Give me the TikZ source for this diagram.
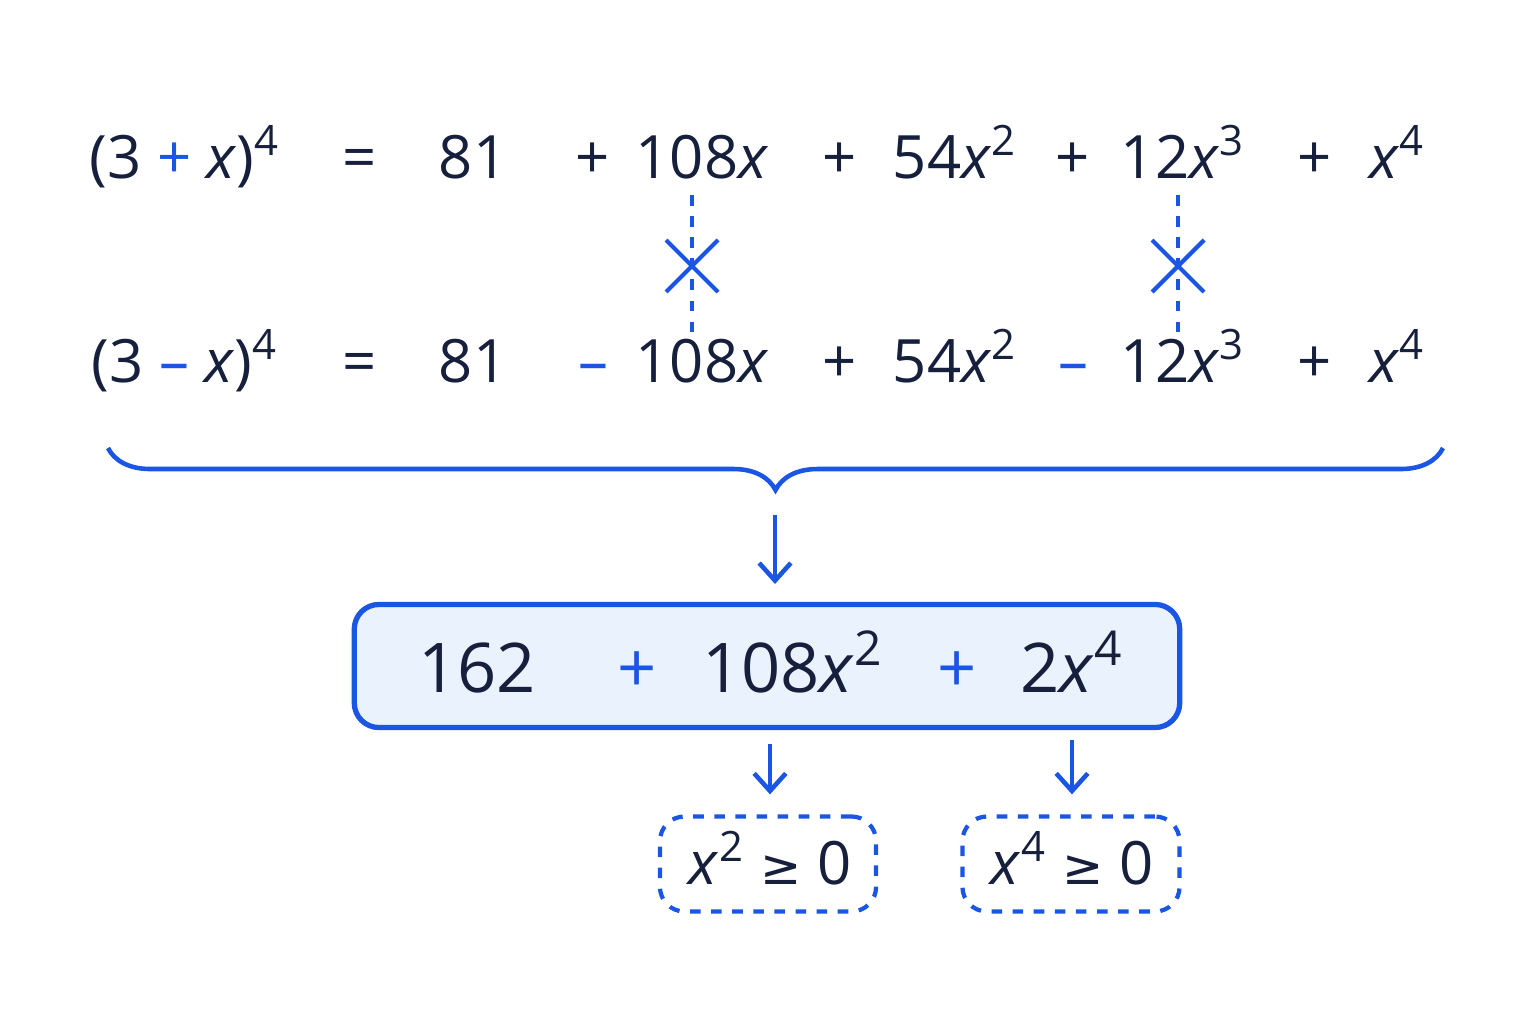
\documentclass[tikz,border=0pt]{standalone}
\usepackage{fontspec}
\setmainfont{Open Sans}
\newfontfamily\symfont{DejaVu Sans}
\usepackage{tikz}
\usetikzlibrary{arrows.meta, positioning, calc, decorations.pathreplacing}
\definecolor{ink}{RGB}{22, 32, 60}
\definecolor{popblue}{RGB}{26, 85, 227}
\definecolor{boxfill}{RGB}{234, 242, 254}
\newcommand{\vx}{\textit{x}}
\newcommand{\pw}[1]{\textsuperscript{#1}}

\begin{document}
\begin{tikzpicture}[x=0.01cm, y=-0.01cm,
    term/.style={text=ink, font=\fontsize{17}{20}\selectfont, inner sep=0pt, anchor=base},
    big/.style={text=ink, font=\fontsize{19.5}{23}\selectfont, inner sep=0pt, anchor=base},
    sign/.style={text=popblue},
    guide/.style={draw=popblue, dashed, line width=0.9pt},
    cross/.style={draw=popblue, line width=1.2pt},
    down/.style={draw=popblue, line width=1.3pt, -{Straight Barb[length=5pt, width=9pt]}}]
  \useasboundingbox (0,0) rectangle (1536,1024);
  % upper row
  \node[term] (pl) at (185,178) {(3 {\color{popblue}+} \vx)\pw{4}};
  \node[term] (eqa) at (360,178) {=};
  \node[term] (a0) at (473,178) {81};
  \node[term] (sa1) at (593,178) {+};
  \node[term] (a1) at (702,178) {108\vx};
  \node[term] (sa2) at (840,178) {+};
  \node[term] (a2) at (955,178) {54\vx\pw{2}};
  \node[term] (sa3) at (1073,178) {+};
  \node[term] (a3) at (1183,178) {12\vx\pw{3}};
  \node[term] (sa4) at (1315,178) {+};
  \node[term] (a4) at (1397,178) {\vx\pw{4}};
  % lower row
  \node[term] (mi) at (185,382) {(3 {\color{popblue}\textendash} \vx)\pw{4}};
  \node[term] (eqb) at (360,382) {=};
  \node[term] (b0) at (473,382) {81};
  \node[term, sign] (sb1) at (593,382) {\textendash};
  \node[term] (b1) at (702,382) {108\vx};
  \node[term] (sb2) at (840,382) {+};
  \node[term] (b2) at (955,382) {54\vx\pw{2}};
  \node[term, sign] (sb3) at (1073,382) {\textendash};
  \node[term] (b3) at (1183,382) {12\vx\pw{3}};
  \node[term] (sb4) at (1315,382) {+};
  \node[term] (b4) at (1397,382) {\vx\pw{4}};
  % cancelling pairs
  \foreach \cx in {692,1178} {
    \draw[guide] (\cx,195) -- (\cx,332);
    \draw[cross] (\cx-26,240) -- (\cx+26,292) (\cx-26,292) -- (\cx+26,240);
  }
  % brace
  \coordinate (bl) at (108,448);
  \coordinate (br) at (1443,448);
  \draw[popblue, line width=1.3pt, decorate, decoration={brace, amplitude=0.42cm, mirror}] (bl) -- (br);
  \coordinate (tip) at (775,515);
  \coordinate (top) at (775,584);
  \draw[down] (tip) -- (top);
  % result
  \node[draw=popblue, fill=boxfill, line width=1.5pt, rounded corners=7pt,
        minimum width=8.25cm, minimum height=1.23cm] (res) at (767,666) {};
  \node[big] (r0) at (477,692) {162};
  \node[big, sign] (r1) at (637,692) {+};
  \node[big] (r2) at (793,692) {108\vx\pw{2}};
  \node[big, sign] (r3) at (957,692) {+};
  \node[big] (r4) at (1072,692) {2\vx\pw{4}};
  % sign checks
  \node[draw=popblue, dashed, line width=1.2pt, rounded corners=7pt,
        minimum width=2.16cm, minimum height=0.95cm] (c2) at (768,864) {};
  \node[draw=popblue, dashed, line width=1.2pt, rounded corners=7pt,
        minimum width=2.17cm, minimum height=0.95cm] (c4) at (1071,864) {};
  \node[term] at (770,884) {\vx\pw{2} {\symfont\fontsize{14}{16}\selectfont ≥} 0};
  \node[term] at (1072,884) {\vx\pw{4} {\symfont\fontsize{14}{16}\selectfont ≥} 0};
  \draw[down] ($(res.south)+(3,14)$) -- ($(c2.north)+(2,-20)$);
  \draw[down] ($(c4.north)+(1,-74)$) -- ($(c4.north)+(1,-20)$);
\end{tikzpicture}
\end{document}
